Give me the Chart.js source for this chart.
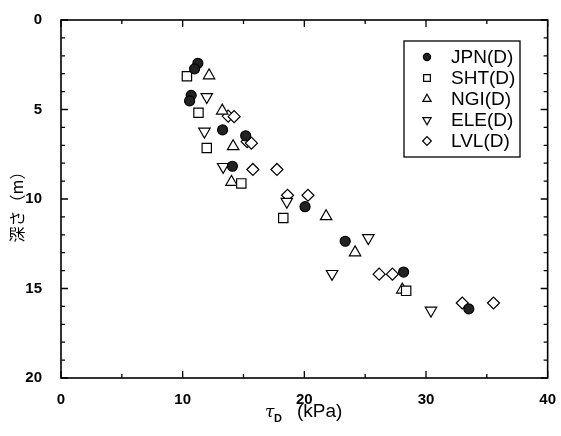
<!DOCTYPE html>
<html>
<head>
<meta charset="utf-8">
<script src="https://cdn.jsdelivr.net/npm/chart.js@4/dist/chart.umd.min.js"></script>
<style>
  html, body { margin: 0; padding: 0; background: #fff; }
  #wrap { width: 561px; height: 436px; }
</style>
</head>
<body>
<div id="wrap"><canvas id="c" width="561" height="436"></canvas></div>
<script>
// Series names shown in the legend
const seriesNames = ['JPN(D)', 'SHT(D)', 'NGI(D)', 'ELE(D)', 'LVL(D)'];

// Shear stress tau_D (kPa) and depth (m) per series
const jpnTau   = [11.25, 10.98, 10.70, 10.57, 13.28, 15.18, 14.09, 20.06, 23.36, 28.16, 33.52];
const jpnDepth = [2.42, 2.73, 4.21, 4.52, 6.14, 6.47, 8.17, 10.43, 12.36, 14.08, 16.14];

const shtTau   = [10.35, 11.30, 11.98, 14.82, 18.27, 28.37];
const shtDepth = [3.14, 5.18, 7.15, 9.13, 11.06, 15.13];

const ngiTau   = [12.17, 13.25, 14.15, 14.01, 21.79, 24.17, 28.05];
const ngiDepth = [3.10, 5.07, 7.06, 9.05, 10.97, 12.99, 15.07];

const eleTau   = [11.98, 11.79, 13.33, 18.56, 25.26, 22.28, 30.41];
const eleDepth = [4.30, 6.23, 8.20, 10.15, 12.18, 14.18, 16.23];

const lvlTau   = [13.74, 14.23, 15.30, 15.65, 15.77, 17.75, 18.62, 20.30, 26.15, 27.24, 32.98, 35.55];
const lvlDepth = [5.37, 5.40, 6.80, 6.88, 8.35, 8.35, 9.79, 9.79, 14.20, 14.20, 15.81, 15.81];

// Axis tick values
const xTicks = [0, 10, 20, 30, 40];
const yTicks = [0, 5, 10, 15, 20];

const pairs = (xs, ys) => xs.map((x, i) => ({ x: x, y: ys[i] }));

// Marker look per series
const markers = [
  { style: 'circle',   radius: 5.0, rotation: 0,   fill: '#222222' },
  { style: 'rect',     radius: 6.6, rotation: 0,   fill: '#ffffff' },
  { style: 'triangle', radius: 6.6, rotation: 0,   fill: '#ffffff' },
  { style: 'triangle', radius: 6.6, rotation: 180, fill: '#ffffff' },
  { style: 'rectRot',  radius: 6.0, rotation: 0,   fill: '#ffffff' }
];

const seriesData = [
  pairs(jpnTau, jpnDepth),
  pairs(shtTau, shtDepth),
  pairs(ngiTau, ngiDepth),
  pairs(eleTau, eleDepth),
  pairs(lvlTau, lvlDepth)
];

const datasets = seriesNames.map((name, i) => ({
  label: name,
  data: seriesData[i],
  pointStyle: markers[i].style,
  pointRadius: markers[i].radius,
  pointRotation: markers[i].rotation,
  pointBackgroundColor: markers[i].fill,
  pointBorderColor: '#000',
  pointBorderWidth: 1.2,
  showLine: false
}));

// Frame with inward ticks, axis titles and boxed legend
const decor = {
  id: 'decor',
  afterDraw(chart) {
    const ctx = chart.ctx;
    const a = chart.chartArea;
    const xs = chart.scales.x, ys = chart.scales.y;
    ctx.save();
    ctx.strokeStyle = '#000';
    ctx.lineWidth = 1.6;
    ctx.strokeRect(a.left, a.top, a.right - a.left, a.bottom - a.top);

    ctx.lineWidth = 1.3;
    ctx.beginPath();
    for (let v = 0; v <= 40; v += 5) {
      const px = xs.getPixelForValue(v);
      const len = (v % 10 === 0) ? 7 : 4;
      ctx.moveTo(px, a.bottom); ctx.lineTo(px, a.bottom - len);
      ctx.moveTo(px, a.top);    ctx.lineTo(px, a.top + len);
    }
    for (let v = 0; v <= 20; v += 1) {
      const py = ys.getPixelForValue(v);
      const len = (v % 5 === 0) ? 7 : 4;
      ctx.moveTo(a.left, py);  ctx.lineTo(a.left + len, py);
      ctx.moveTo(a.right, py); ctx.lineTo(a.right - len, py);
    }
    ctx.stroke();

    // y title
    ctx.fillStyle = '#000';
    ctx.save();
    ctx.translate(17, (a.top + a.bottom) / 2 + 4);
    ctx.rotate(-Math.PI / 2);
    ctx.font = '16px "Noto Sans CJK JP"';
    ctx.textAlign = 'center';
    ctx.textBaseline = 'middle';
    ctx.fillText('深さ（m）', 0, 0);
    ctx.restore();

    // x title: tau with subscript D, then unit
    const ty = 417;
    ctx.textBaseline = 'alphabetic';
    ctx.textAlign = 'left';
    ctx.font = 'italic 17px "DejaVu Serif"';
    ctx.fillText('τ', 265, ty);
    ctx.font = 'bold 11px "Liberation Sans"';
    ctx.fillText('D', 274, ty + 5);
    ctx.font = '19px "Liberation Sans"';
    ctx.fillText('(kPa)', 297, ty);

    // legend
    const L = { left: 404, top: 41, right: 520, bottom: 157 };
    ctx.fillStyle = '#fff';
    ctx.fillRect(L.left, L.top, L.right - L.left, L.bottom - L.top);
    ctx.lineWidth = 1.3;
    ctx.strokeStyle = '#000';
    ctx.strokeRect(L.left, L.top, L.right - L.left, L.bottom - L.top);
    datasets.forEach((ds, i) => {
      const cy = 57 + i * 21;
      ctx.fillStyle = markers[i].fill;
      ctx.strokeStyle = '#000';
      ctx.lineWidth = 1.2;
      Chart.helpers.drawPoint(ctx, {
        pointStyle: markers[i].style,
        radius: markers[i].radius * 0.72,
        rotation: markers[i].rotation,
        borderWidth: 1.2
      }, 427, cy);
      ctx.fillStyle = '#000';
      ctx.font = '19px "Liberation Sans"';
      ctx.textBaseline = 'middle';
      ctx.fillText(ds.label, 451, cy + 1);
    });
    ctx.restore();
  }
};

new Chart(document.getElementById('c'), {
  type: 'scatter',
  data: { datasets: datasets },
  options: {
    responsive: false,
    animation: false,
    devicePixelRatio: 1,
    layout: { padding: { top: 15, right: 8, left: 0, bottom: 0 } },
    plugins: { legend: { display: false }, tooltip: { enabled: false } },
    scales: {
      x: {
        type: 'linear', min: 0, max: 40,
        afterBuildTicks(s) { s.ticks = xTicks.map(v => ({ value: v })); },
        ticks: { color: '#000', padding: 5, font: { family: 'Liberation Sans', size: 15, weight: 'bold' } },
        grid: { display: false },
        border: { display: false },
        afterFit(s) { s.height = 58; }
      },
      y: {
        type: 'linear', min: 0, max: 20, reverse: true,
        afterBuildTicks(s) { s.ticks = yTicks.map(v => ({ value: v })); },
        ticks: { color: '#000', padding: 11, font: { family: 'Liberation Sans', size: 15, weight: 'bold' } },
        grid: { display: false },
        border: { display: false },
        afterFit(s) { s.width = 61; }
      }
    }
  },
  plugins: [decor]
});
</script>
</body>
</html>
